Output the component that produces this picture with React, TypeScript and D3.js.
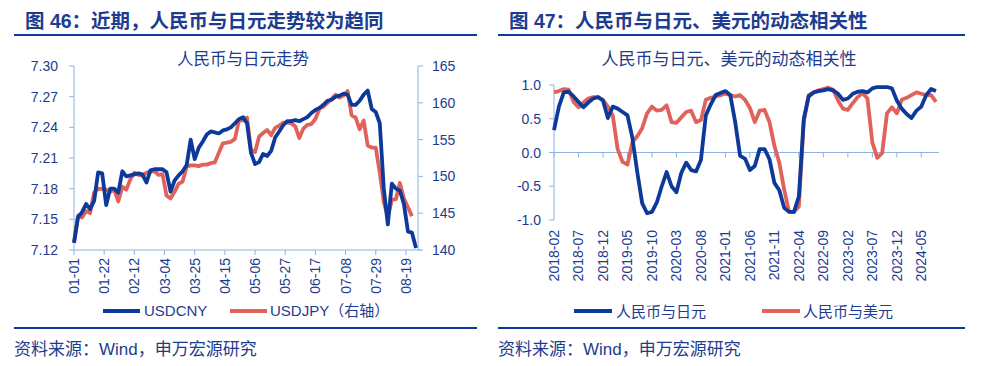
import React from 'react';
import * as d3 from 'd3';

// 图46: USDCNY (left axis) & USDJPY (right axis), one value every 2 business days from 2024-01-01
const usdCny = [
  7.127, 7.152, 7.157, 7.165, 7.160, 7.168, 7.196, 7.195, 7.164, 7.180,
  7.180, 7.176, 7.197, 7.192, 7.193, 7.194, 7.195, 7.194, 7.186, 7.198,
  7.199, 7.199, 7.199, 7.196, 7.177, 7.188, 7.193, 7.197, 7.203, 7.228,
  7.209, 7.220, 7.226, 7.233, 7.236, 7.235, 7.234, 7.237, 7.238, 7.240,
  7.244, 7.248, 7.250, 7.244, 7.215, 7.204, 7.206, 7.214, 7.212, 7.217,
  7.230, 7.236, 7.242, 7.246, 7.246, 7.247, 7.246, 7.248, 7.250, 7.254,
  7.257, 7.259, 7.262, 7.266, 7.267, 7.270, 7.271, 7.273, 7.272, 7.262,
  7.262, 7.266, 7.272, 7.276, 7.258, 7.255, 7.244, 7.180, 7.145, 7.185,
  7.180, 7.178, 7.165, 7.138, 7.137, 7.122,
];
const usdJpy = [
  141.0, 144.7, 144.4, 145.3, 145.0, 147.8, 148.3, 148.3, 148.2, 147.9,
  148.2, 146.6, 148.6, 148.2, 149.6, 150.5, 150.2, 150.1, 150.5, 150.6,
  150.7, 150.2, 150.3, 147.4, 147.0, 147.9, 149.0, 149.3, 151.3, 151.5,
  151.5, 151.4, 151.6, 151.6, 151.8, 151.9, 153.2, 154.5, 154.6, 154.7,
  155.1, 157.6, 157.6, 158.0, 153.6, 153.3, 155.4, 155.9, 156.3, 155.6,
  156.6, 156.9, 157.3, 157.3, 157.2, 156.8, 155.2, 156.5, 157.0, 157.1,
  157.8, 159.2, 159.5, 160.0, 160.5, 161.1, 160.7, 161.0, 161.6, 158.3,
  158.0, 156.4, 157.6, 154.2, 153.9, 153.9, 150.5, 146.5, 144.5, 146.8,
  146.9, 149.1, 147.0, 145.8, 144.6,
];
const leftTickLabels = ['01-01', '01-22', '02-12', '03-04', '03-25', '04-15', '05-06', '05-27', '06-17', '07-08', '07-29', '08-19'];
const cnyTicks = [7.12, 7.15, 7.18, 7.21, 7.24, 7.27, 7.30];
const jpyTicks = [140, 145, 150, 155, 160, 165];

// 图47: monthly correlation, 2018-02 .. 2024-08
const corrJpy = [
  0.33, 0.68, 0.89, 0.90, 0.83, 0.75, 0.67, 0.74, 0.80, 0.82,
  0.77, 0.51, 0.68, 0.65, 0.60, 0.55, 0.22, -0.29, -0.75, -0.90,
  -0.88, -0.74, -0.50, -0.29, -0.50, -0.59, -0.30, -0.15, -0.26, -0.28,
  -0.11, 0.55, 0.71, 0.85, 0.88, 0.91, 0.85, 0.45, -0.05, -0.09,
  -0.26, -0.20, 0.05, 0.05, -0.10, -0.45, -0.56, -0.82, -0.88, -0.88,
  -0.65, 0.50, 0.83, 0.89, 0.91, 0.92, 0.94, 0.92, 0.87, 0.78,
  0.80, 0.87, 0.90, 0.91, 0.89, 0.95, 0.97, 0.97, 0.97, 0.95,
  0.77, 0.65, 0.57, 0.51, 0.62, 0.68, 0.85, 0.94, 0.91,
];
const corrUsd = [
  0.89, 0.91, 0.94, 0.93, 0.75, 0.67, 0.74, 0.80, 0.82, 0.82,
  0.78, 0.68, 0.55, 0.05, -0.14, -0.18, 0.15, 0.24, 0.36, 0.58,
  0.68, 0.62, 0.63, 0.70, 0.45, 0.44, 0.52, 0.60, 0.62, 0.45,
  0.48, 0.78, 0.81, 0.83, 0.85, 0.87, 0.85, 0.83, 0.85, 0.78,
  0.66, 0.45, 0.62, 0.63, 0.45, 0.10, -0.15, -0.55, -0.88, -0.88,
  -0.80, 0.45, 0.85, 0.89, 0.92, 0.94, 0.96, 0.93, 0.77, 0.65,
  0.63, 0.73, 0.82, 0.88, 0.80, 0.15, -0.08, -0.01, 0.58, 0.67,
  0.58, 0.78, 0.81, 0.85, 0.89, 0.87, 0.85, 0.85, 0.75,
];
const rightTickLabels = ['2018-02', '2018-07', '2018-12', '2019-05', '2019-10', '2020-03', '2020-08', '2021-01', '2021-06', '2021-11', '2022-04', '2022-09', '2023-02', '2023-07', '2023-12', '2024-05'];
const corrTicks = [-1, -0.5, 0, 0.5, 1];

const BLUE = '#0d3a9a';
const RED = '#e0625a';
const TEXT = '#1d3c8f';
const AXIS = '#8db3e2';
const FONT = '"Liberation Sans", Arial, "Noto Sans CJK SC", sans-serif';

function LeftChart() {
  const x = d3.scaleLinear().domain([0, 171]).range([74, 418]);
  const yL = d3.scaleLinear().domain([7.12, 7.30]).range([250, 66]);
  const yR = d3.scaleLinear().domain([140, 165]).range([250, 66]);
  const cnyLine = d3.line<number>().x((d, i) => x(i * 2)).y(d => yL(d));
  const jpyLine = d3.line<number>().x((d, i) => x(i * 2)).y(d => yR(d));

  return (
    <g>
      <text x={25} y={28} fontSize={19.5} fontWeight="bold" fill={TEXT}>图 46：近期，人民币与日元走势较为趋同</text>
      <line x1={14} x2={477} y1={35} y2={35} stroke={BLUE} strokeWidth={2} />
      <text x={243} y={65} fontSize={16.5} fill={TEXT} textAnchor="middle">人民币与日元走势</text>

      {/* axes */}
      <line x1={74} x2={74} y1={66} y2={250} stroke={AXIS} />
      <line x1={418} x2={418} y1={66} y2={250} stroke={AXIS} />
      <line x1={74} x2={421} y1={250} y2={250} stroke={AXIS} />
      {cnyTicks.map(t => (
        <g key={t}>
          <line x1={69} x2={74} y1={yL(t)} y2={yL(t)} stroke={AXIS} />
          <text x={58} y={yL(t) + 5} fontSize={14} fill={TEXT} textAnchor="end">{t.toFixed(2)}</text>
        </g>
      ))}
      {jpyTicks.map(t => (
        <g key={t}>
          <line x1={418} x2={423} y1={yR(t)} y2={yR(t)} stroke={AXIS} />
          <text x={432} y={yR(t) + 5} fontSize={14} fill={TEXT}>{t}</text>
        </g>
      ))}
      {leftTickLabels.map((lab, i) => (
        <g key={lab}>
          <line x1={x(i * 15)} x2={x(i * 15)} y1={250} y2={255} stroke={AXIS} />
          <text transform={`translate(${x(i * 15) + 5},258) rotate(-90)`} fontSize={14} fill={TEXT} textAnchor="end">{lab}</text>
        </g>
      ))}

      <path d={jpyLine(usdJpy) || ''} fill="none" stroke={RED} strokeWidth={3.8} strokeLinejoin="round" />
      <path d={cnyLine(usdCny) || ''} fill="none" stroke={BLUE} strokeWidth={3.8} strokeLinejoin="round" />

      {/* legend */}
      <line x1={103} x2={140} y1={311} y2={311} stroke={BLUE} strokeWidth={4} />
      <text x={144} y={316} fontSize={15} fill={TEXT}>USDCNY</text>
      <line x1={230} x2={267} y1={311} y2={311} stroke={RED} strokeWidth={4} />
      <text x={270} y={316} fontSize={15} fill={TEXT}>USDJPY（右轴）</text>

      <line x1={14} x2={477} y1={328} y2={328} stroke={BLUE} strokeWidth={2} />
      <text x={14} y={355} fontSize={17} fill={TEXT}>资料来源：Wind，申万宏源研究</text>
    </g>
  );
}

function RightChart() {
  const x = d3.scaleLinear().domain([0, 78]).range([554, 936]);
  const y = d3.scaleLinear().domain([-1, 1]).range([220, 85]);
  const line = d3.line<number>().x((d, i) => x(i)).y(d => y(d));

  return (
    <g>
      <text x={509} y={28} fontSize={19.5} fontWeight="bold" fill={TEXT}>图 47：人民币与日元、美元的动态相关性</text>
      <line x1={498} x2={965} y1={35} y2={35} stroke={BLUE} strokeWidth={2} />
      <text x={729} y={65} fontSize={17} fill={TEXT} textAnchor="middle">人民币与日元、美元的动态相关性</text>

      <line x1={554} x2={554} y1={85} y2={220} stroke={AXIS} />
      {corrTicks.map(t => (
        <g key={t}>
          <line x1={549} x2={554} y1={y(t)} y2={y(t)} stroke={AXIS} />
          <text x={541} y={y(t) + 5} fontSize={14} fill={TEXT} textAnchor="end">{t.toFixed(1)}</text>
        </g>
      ))}
      <line x1={554} x2={939} y1={y(0)} y2={y(0)} stroke={AXIS} />
      {rightTickLabels.map((lab, i) => (
        <g key={lab}>
          <line x1={x(i * 5)} x2={x(i * 5)} y1={y(0)} y2={y(0) + 5} stroke={AXIS} />
          <text transform={`translate(${x(i * 5) + 5},230) rotate(-90)`} fontSize={14} fill={TEXT} textAnchor="end">{lab}</text>
        </g>
      ))}

      <path d={line(corrUsd) || ''} fill="none" stroke={RED} strokeWidth={3.8} strokeLinejoin="round" />
      <path d={line(corrJpy) || ''} fill="none" stroke={BLUE} strokeWidth={3.8} strokeLinejoin="round" />

      <line x1={574} x2={612} y1={311} y2={311} stroke={BLUE} strokeWidth={4} />
      <text x={616} y={317} fontSize={15} fill={TEXT}>人民币与日元</text>
      <line x1={762} x2={800} y1={311} y2={311} stroke={RED} strokeWidth={4} />
      <text x={803} y={317} fontSize={15} fill={TEXT}>人民币与美元</text>

      <line x1={498} x2={965} y1={328} y2={328} stroke={BLUE} strokeWidth={2} />
      <text x={498} y={355} fontSize={17} fill={TEXT}>资料来源：Wind，申万宏源研究</text>
    </g>
  );
}

export default function App() {
  return (
    <svg
      width={988}
      height={366}
      style={{ position: 'absolute', left: 0, top: 0, background: '#fff' }}
      fontFamily={FONT}
    >
      <LeftChart />
      <RightChart />
    </svg>
  );
}
